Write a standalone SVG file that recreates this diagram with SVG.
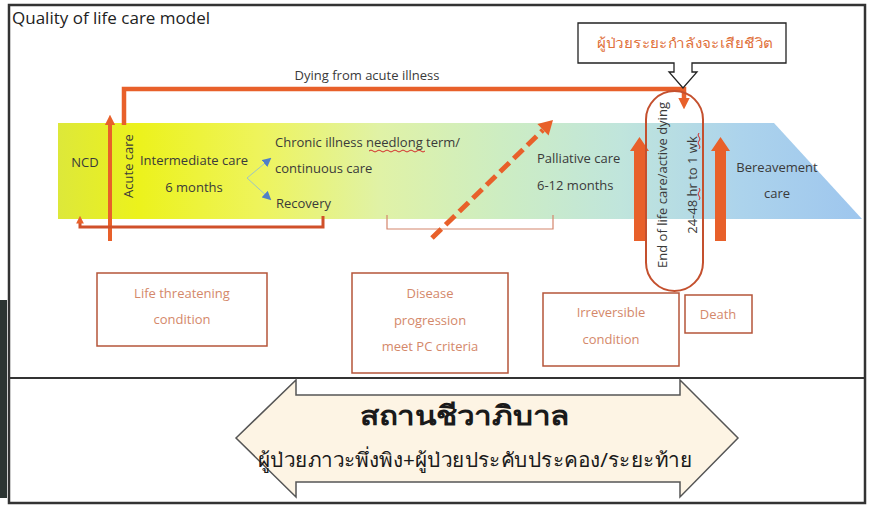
<svg xmlns="http://www.w3.org/2000/svg" width="874" height="508" viewBox="0 0 874 508">
<style>
.t{font-family:"Open Sans","Noto Sans",sans-serif;fill:#3a3a3a;font-size:13px}
.bx{fill:#ffffff;stroke:#b5553a;stroke-width:1.5}
.bt{font-family:"Open Sans","Noto Sans",sans-serif;fill:#d4886a;font-size:13px;text-anchor:middle}
.or{fill:none;stroke:#e8602a;stroke-width:4.5}
.orf{fill:#e8602a}
.th{font-family:"Noto Sans","DejaVu Sans",sans-serif}
</style>
<defs>
<linearGradient id="band" x1="58" y1="0" x2="862" y2="0" gradientUnits="userSpaceOnUse">
<stop offset="0" stop-color="#dde83a"/>
<stop offset="0.1" stop-color="#ecf21c"/>
<stop offset="0.25" stop-color="#eef45c"/>
<stop offset="0.4" stop-color="#e0f2a6"/>
<stop offset="0.55" stop-color="#cdedc2"/>
<stop offset="0.7" stop-color="#c0e5dc"/>
<stop offset="0.85" stop-color="#acd3ec"/>
<stop offset="1" stop-color="#9ec6ee"/>
</linearGradient>
<marker id="ah" viewBox="0 0 10 10" refX="2" refY="5" markerWidth="2.6" markerHeight="2.6" orient="auto" markerUnits="strokeWidth">
<path d="M0,0 L10,5 L0,10 Z" fill="#e8602a"/>
</marker>
<marker id="bh" viewBox="0 0 10 10" refX="8" refY="5" markerWidth="9" markerHeight="9" orient="auto" markerUnits="userSpaceOnUse">
<path d="M0,0 L10,5 L0,10 Z" fill="#4f7fc8"/>
</marker>
</defs>
<rect width="874" height="508" fill="#ffffff"/>
<rect x="0" y="300" width="7" height="198" fill="#2c3432"/>
<rect x="9" y="5" width="856" height="498" fill="none" stroke="#333" stroke-width="2.5"/>
<line x1="9" y1="378" x2="865" y2="378" stroke="#333" stroke-width="2"/>
<text x="12" y="24" font-family="Open Sans, Noto Sans, sans-serif" font-size="17" fill="#222">Quality of life care model</text>

<g id="band-g">
<polygon points="58,123 774,123 862,219 58,219" fill="url(#band)"/>
</g>

<g id="connectors">
<path class="or" d="M124,125 V89 H684 V100" marker-end="url(#ah)"/>
<path d="M110,241 V123" stroke="#e8602a" stroke-width="4" fill="none" marker-end="url(#ah)"/>
<path d="M323,216 V227 H80 V222" stroke="#d0502a" stroke-width="3" fill="none" marker-end="url(#ah)"/>
<path d="M387,215 V229 H553 V215" stroke="#d4856c" stroke-width="1.2" fill="none"/>
<line x1="432" y1="238" x2="543" y2="130" stroke="#e8602a" stroke-width="5" stroke-dasharray="13 6"/>
<polygon points="553,120 548.6,135.5 537.4,124.1" fill="#e8602a"/>
<line x1="247" y1="178" x2="270" y2="159" stroke="#9cc4c4" stroke-width="1" marker-end="url(#bh)"/>
<line x1="247" y1="178" x2="270" y2="199" stroke="#9cc4c4" stroke-width="1" marker-end="url(#bh)"/>
<polygon class="orf" points="634,241 634,151 630,151 639.5,137 649,151 645,151 645,241"/>
<polygon class="orf" points="715,241 715,151 711,151 720.5,137 730,151 726,151 726,241"/>
</g>

<g id="ncd"><text class="t" x="85" y="167" text-anchor="middle" font-size="12">NCD</text></g>
<g id="acute"><text class="t" transform="translate(133,166) rotate(-90)" text-anchor="middle" font-size="14">Acute care</text></g>
<g id="intermediate">
<text class="t" x="194" y="165" text-anchor="middle">Intermediate care</text>
<text class="t" x="194" y="192" text-anchor="middle">6 months</text>
</g>
<g id="chronic">
<text class="t" x="275" y="147">Chronic illness needlong term/</text>
<path d="M369,151 q2,-2 4,0 t4,0 t4,0 t4,0 t4,0 t4,0 t4,0 t4,0 t4,0 t4,0 t4,0 t4,0 t4,0 t4,0" fill="none" stroke="#d42a2a" stroke-width="1"/>
<text class="t" x="275" y="173">continuous care</text>
</g>
<g id="recovery"><text class="t" x="276" y="208">Recovery</text></g>
<g id="palliative">
<text class="t" x="537" y="163">Palliative care</text>
<text class="t" x="537" y="190">6-12 months</text>
</g>
<g id="bereavement">
<text class="t" x="777" y="172" text-anchor="middle">Bereavement</text>
<text class="t" x="777" y="198" text-anchor="middle">care</text>
</g>

<g id="callout">
<path d="M578,23 H786 V63 H692 V72 H697 L683,88 L669,72 H674 V63 H578 Z" fill="#ffffff" stroke="#222" stroke-width="1.3"/>
<text class="th" x="685" y="48" text-anchor="middle" font-size="14" fill="#e0703a" textLength="176" lengthAdjust="spacingAndGlyphs">ผู้ป่วยระยะกำลังจะเสียชีวิต</text>
</g>
<g id="dying-label"><text class="t" x="367" y="80" text-anchor="middle" font-size="13.5">Dying from acute illness</text></g>

<g id="eol">
<rect x="646" y="91" width="57" height="200" rx="28.5" ry="28.5" fill="none" stroke="#c4502e" stroke-width="2"/>
<text class="t" transform="translate(667,185) rotate(-90)" text-anchor="middle">End of life care/active dying</text>
<text class="t" transform="translate(697,185) rotate(-90)" text-anchor="middle">24-48 hr to 1 wk</text>
<path d="M699,200 q2,-2 0,-4 t0,-4 t0,-4" fill="none" stroke="#d42a2a" stroke-width="1"/>
<path d="M699,149 q2,-2 0,-4 t0,-4 t0,-4 t0,-4" fill="none" stroke="#d42a2a" stroke-width="1"/>
</g>

<g id="box-life">
<rect class="bx" x="97" y="273" width="170" height="73"/>
<text class="bt" x="182" y="298">Life threatening</text>
<text class="bt" x="182" y="324">condition</text>
</g>
<g id="box-disease">
<rect class="bx" x="352" y="273" width="156" height="100"/>
<text class="bt" x="430" y="298">Disease</text>
<text class="bt" x="430" y="325">progression</text>
<text class="bt" x="430" y="351">meet PC criteria</text>
</g>
<g id="box-irrev">
<rect class="bx" x="543" y="293" width="136" height="73"/>
<text class="bt" x="611" y="317">Irreversible</text>
<text class="bt" x="611" y="344">condition</text>
</g>
<g id="box-death">
<rect class="bx" x="685" y="295" width="67" height="38"/>
<text class="bt" x="718" y="319">Death</text>
</g>

<g id="hospice">
<polygon points="236,438 296,380 296,395 680,395 680,380 738,438 680,497 680,482 296,482 296,497" fill="#fdf4e4" stroke="#555" stroke-width="1.5"/>
<text class="th" x="465" y="425" text-anchor="middle" font-size="27" font-weight="bold" fill="#1a1a1a" textLength="210" lengthAdjust="spacingAndGlyphs">สถานชีวาภิบาล</text>
<text class="th" x="475" y="467" text-anchor="middle" font-size="20" fill="#1a1a1a" textLength="434" lengthAdjust="spacingAndGlyphs">ผู้ป่วยภาวะพึ่งพิง+ผู้ป่วยประคับประคอง/ระยะท้าย</text>
</g>
</svg>
